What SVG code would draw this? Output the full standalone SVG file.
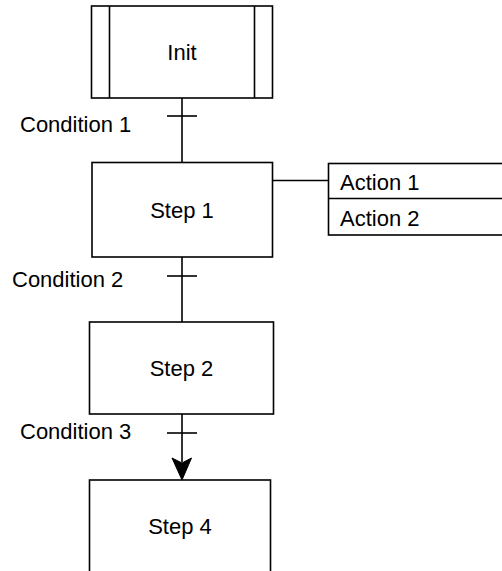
<svg xmlns="http://www.w3.org/2000/svg" width="502" height="571" viewBox="0 0 502 571">
<style>
.box{fill:#fff;stroke:#000;stroke-width:1.6}
.ln{fill:none;stroke:#000;stroke-width:1.6}
text{font-family:"Liberation Sans",Arial,sans-serif;font-size:22px;fill:#000}
.c{text-anchor:middle}
</style>
<rect width="502" height="571" fill="#fff"/>
<g id="connectors">
<path class="ln" d="M182,98 V162"/>
<path class="ln" d="M167,116 H197"/>
<path class="ln" d="M182,257 V322"/>
<path class="ln" d="M167,276 H197"/>
<path class="ln" d="M182,414 V462"/>
<path class="ln" d="M167,433 H197"/>
<path d="M172,458 L182,480 L191.5,458 L182,463 Z" fill="#000" stroke="#000" stroke-width="1"/>
<path class="ln" d="M272.5,180.5 H328.5"/>
</g>
<g id="init">
<rect class="box" x="91.5" y="6" width="181" height="92"/>
<path class="ln" d="M109.5,6 V98 M254.5,6 V98"/>
<text class="c" x="182" y="60">Init</text>
</g>
<g id="cond1"><text x="20" y="132">Condition 1</text></g>
<g id="step1">
<rect class="box" x="92" y="162.5" width="180.5" height="94.5"/>
<text class="c" x="182" y="218">Step 1</text>
</g>
<g id="actions">
<rect class="box" x="328.5" y="163.5" width="180" height="71.5"/>
<path class="ln" d="M328.5,198.5 H502"/>
<text x="340" y="190">Action 1</text>
<text x="340" y="226">Action 2</text>
</g>
<g id="cond2"><text x="12" y="287">Condition 2</text></g>
<g id="step2">
<rect class="box" x="89.5" y="322" width="184" height="92"/>
<text class="c" x="181.5" y="376">Step 2</text>
</g>
<g id="cond3"><text x="20" y="439">Condition 3</text></g>
<g id="step4">
<rect class="box" x="89.5" y="480" width="181" height="100"/>
<text class="c" x="180" y="534">Step 4</text>
</g>
</svg>
